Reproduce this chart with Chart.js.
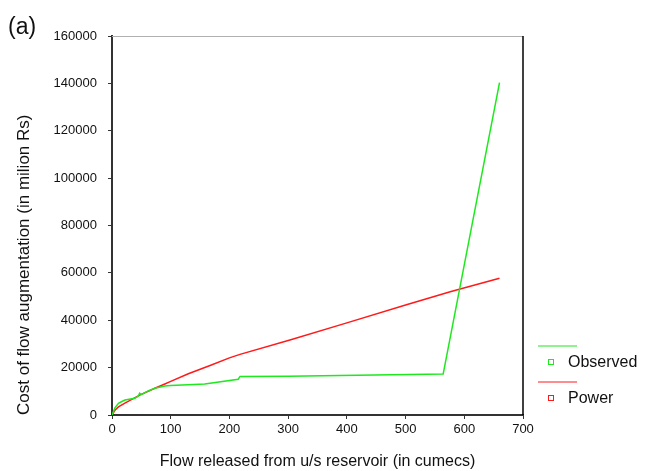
<!DOCTYPE html>
<html>
<head>
<meta charset="utf-8">
<script src="https://cdn.jsdelivr.net/npm/chart.js@4"></script>
<style>
  body { margin: 0; background: #fff; }
  #wrap { position: relative; width: 646px; height: 471px; }
  #tag { position: absolute; left: 8px; top: 13px; font: 23px "Liberation Sans", Arial, sans-serif; color: #111; }
</style>
</head>
<body>
<div id="wrap">
  <canvas id="c" width="646" height="471"></canvas>
  <div id="tag">(a)</div>
</div>
<script>
// Observed cost curve (flow in cumecs, cost in million Rs)
const observedFlow = [0, 5, 11, 16, 22, 39, 45, 47, 50, 60, 73, 90, 100, 158, 167, 215, 218, 300, 564, 660];
const observedCost = [0, 3000, 4900, 5600, 6300, 7050, 8000, 9200, 8600, 10000, 11300, 12200, 12500, 13100, 13400, 15100, 16300, 16400, 17300, 140300];

// Power fit curve
const powerFlow = [0, 5, 11, 22, 48, 73, 90, 100, 130, 167, 200, 218, 303, 400, 500, 576, 593, 660];
const powerCost = [0, 2000, 3400, 5000, 8500, 11300, 13100, 14200, 17400, 20900, 24100, 25600, 31700, 38900, 46400, 52000, 53200, 57700];

const xTicks = [0, 100, 200, 300, 400, 500, 600, 700];
const yTicks = [0, 20000, 40000, 60000, 80000, 100000, 120000, 140000, 160000];

const pairs = (xs, ys) => xs.map((x, i) => ({ x: x, y: ys[i] }));

const FONT = '"Liberation Sans", Arial, sans-serif';

// top/right frame + legend to the right of the plot
const framePlugin = {
    id: 'frame',
    afterDraw(chart) {
        const { ctx, chartArea: a } = chart;
        ctx.save();
        ctx.lineWidth = 1;
        ctx.strokeStyle = '#b0b0b0';
        ctx.beginPath();
        ctx.moveTo(a.left, a.top + 0.5);
        ctx.lineTo(a.right, a.top + 0.5);
        ctx.stroke();
        ctx.strokeStyle = '#000';
        ctx.lineWidth = 1.5;
        ctx.beginPath();
        ctx.moveTo(a.right, a.top);
        ctx.lineTo(a.right, a.bottom);
        ctx.stroke();

        const x0 = a.right + 15;
        let y = a.bottom - 69;
        chart.data.datasets.forEach((ds) => {
            ctx.strokeStyle = ds.borderColor;
            ctx.lineWidth = 1;
            ctx.beginPath();
            ctx.moveTo(x0, y);
            ctx.lineTo(x0 + 39, y);
            ctx.stroke();
            ctx.strokeRect(x0 + 10.5, y + 13.5, 5, 5);
            ctx.fillStyle = '#111';
            ctx.font = '16px ' + FONT;
            ctx.textBaseline = 'middle';
            ctx.fillText(ds.label, x0 + 30, y + 17);
            y += 36;
        });
        ctx.restore();
    },
};

new Chart(document.getElementById('c'), {
    type: 'scatter',
    data: {
        datasets: [{
            label: 'Observed',
            data: pairs(observedFlow, observedCost),
            showLine: true,
            borderColor: '#1ee81e',
            borderWidth: 1.5,
            pointRadius: 0,
        }, {
            label: 'Power',
            data: pairs(powerFlow, powerCost),
            showLine: true,
            borderColor: '#ff1a1a',
            borderWidth: 1.5,
            pointRadius: 0,
        }],
    },
    options: {
        responsive: false,
        animation: false,
        layout: { padding: { left: 0, top: 36, right: 123, bottom: 0 } },
        plugins: {
            legend: { display: false },
            tooltip: { enabled: false },
        },
        scales: {
            x: {
                type: 'linear',
                min: 0,
                max: 700,
                afterBuildTicks: (s) => { s.ticks = xTicks.map((v) => ({ value: v })); },
                afterFit: (s) => { s.height = 56; },
                grid: { drawOnChartArea: false, drawTicks: true, tickLength: 4, color: '#333' },
                border: { display: true, color: '#333', width: 2 },
                ticks: { color: '#111', font: { family: FONT, size: 13 }, padding: 3, maxRotation: 0, callback: (v) => String(v) },
                title: {
                    display: true,
                    text: 'Flow released from u/s reservoir (in cumecs)',
                    color: '#111',
                    font: { family: FONT, size: 16 },
                    padding: { top: 0, bottom: 0 },
                },
            },
            y: {
                type: 'linear',
                min: 0,
                max: 160000,
                afterBuildTicks: (s) => { s.ticks = yTicks.map((v) => ({ value: v })); },
                afterFit: (s) => { s.width = 112; },
                grid: { drawOnChartArea: false, drawTicks: true, tickLength: 4, color: '#333' },
                border: { display: true, color: '#333', width: 2 },
                ticks: { color: '#111', font: { family: FONT, size: 13 }, padding: 11, callback: (v) => String(v) },
                title: {
                    display: true,
                    text: 'Cost of flow augmentation (in milion Rs)',
                    color: '#111',
                    align: 'start',
                    font: { family: FONT, size: 17 },
                    padding: { top: 14, bottom: 0 },
                },
            },
        },
    },
    plugins: [framePlugin],
});
</script>
</body>
</html>
